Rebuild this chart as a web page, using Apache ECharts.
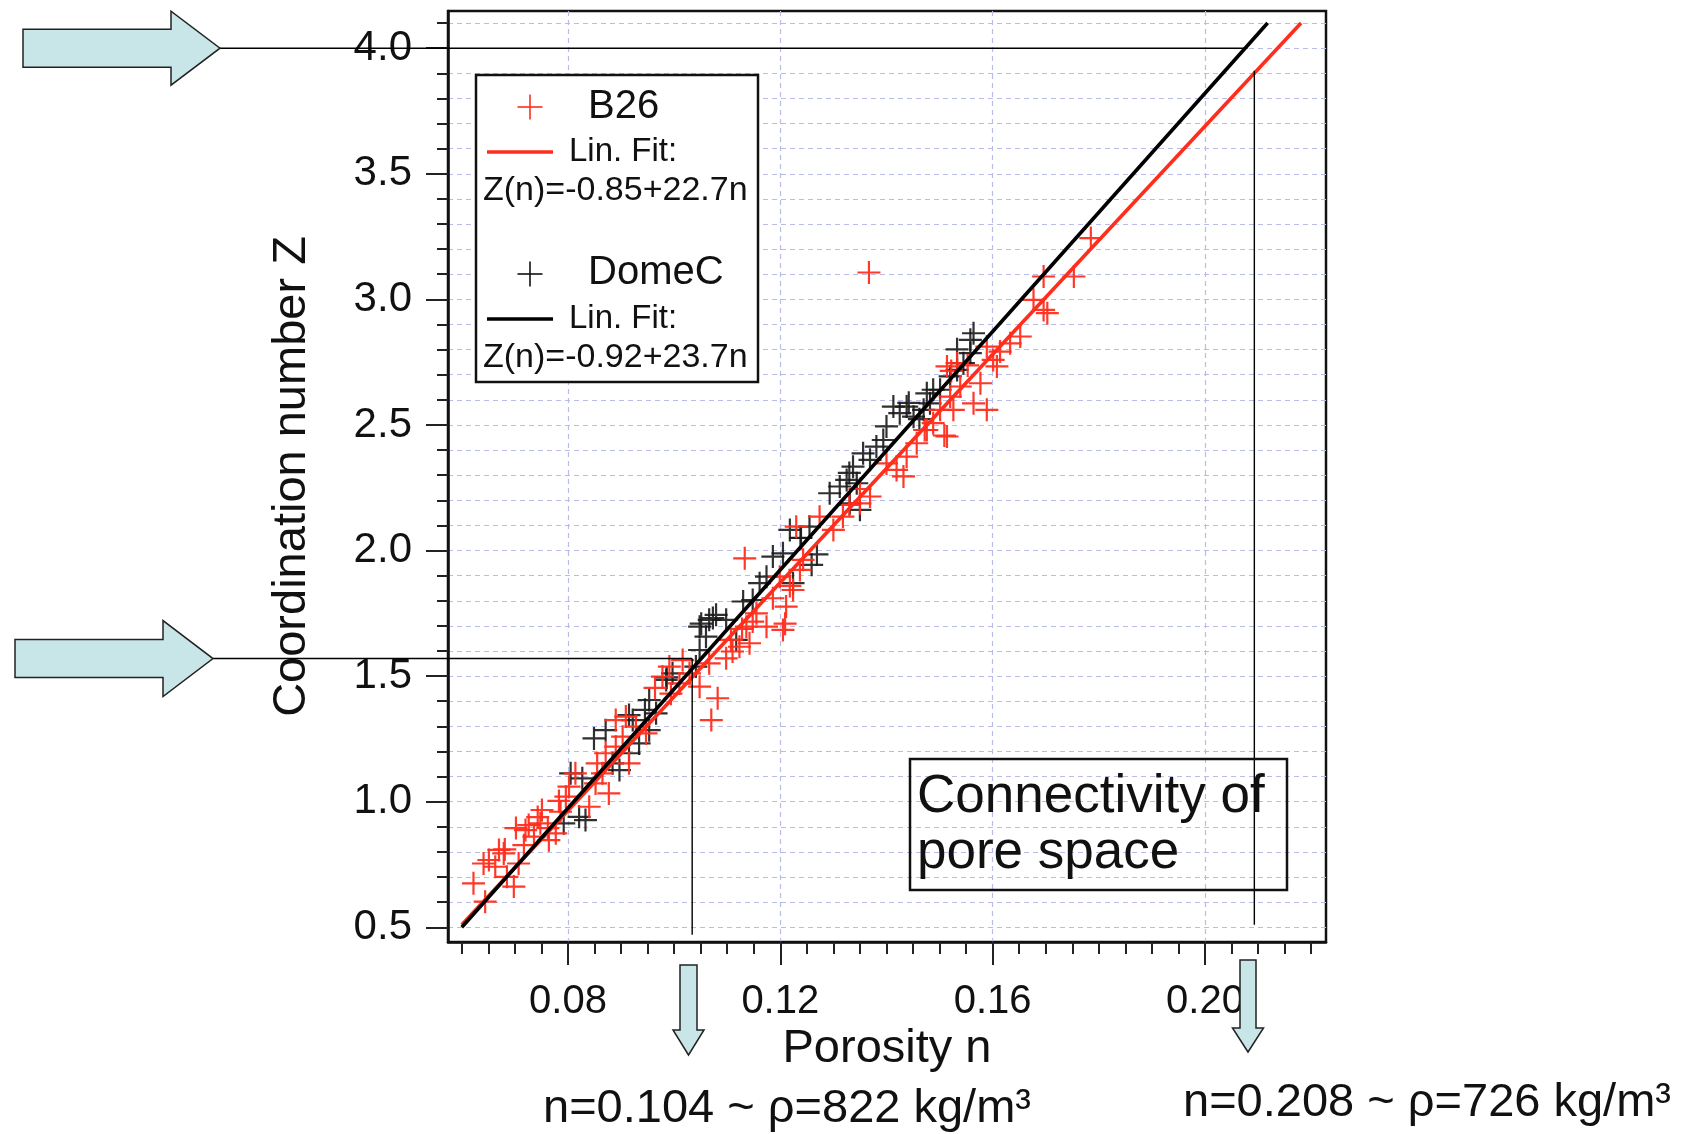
<!DOCTYPE html>
<html><head><meta charset="utf-8">
<script src="https://cdn.jsdelivr.net/npm/echarts@6/dist/echarts.min.js"></script>
<style>html,body{margin:0;padding:0;background:#fff}#c{width:1686px;height:1134px}</style>
</head><body><div id="c"></div>
<script>
// ---------- data ----------
const seriesNames = ['B26', 'DomeC'];
const fitLabel = 'Lin. Fit:';
const fitEquations = ['Z(n)=-0.85+22.7n', 'Z(n)=-0.92+23.7n'];
const xTitle = 'Porosity n';
const yTitle = 'Coordination number Z';
const noteTexts = ['n=0.104 ~ \u03c1=822 kg/m\u00b3', 'n=0.208 ~ \u03c1=726 kg/m\u00b3'];

const xMajorTicks = [0.08, 0.12, 0.16, 0.20];
const xMinorTicks = [0.06,0.065,0.07,0.075,0.08,0.085,0.09,0.095,0.10,0.105,0.11,0.115,0.12,0.125,0.13,0.135,0.14,0.145,0.15,0.155,0.16,0.165,0.17,0.175,0.18,0.185,0.19,0.195,0.20,0.205,0.21,0.215,0.22];
const yMajorTicks = [0.5, 1.0, 1.5, 2.0, 2.5, 3.0, 3.5, 4.0];
const yMinorTicks = [0.5,0.6,0.7,0.8,0.9,1.0,1.1,1.2,1.3,1.4,1.5,1.6,1.7,1.8,1.9,2.0,2.1,2.2,2.3,2.4,2.5,2.6,2.7,2.8,2.9,3.0,3.1,3.2,3.3,3.4,3.5,3.6,3.7,3.8,3.9,4.0,4.1];
const xRange = [0.0574, 0.2228];
const yRange = [0.4415, 4.148];

// B26 (red crosses) [porosity n, coordination Z]
const b26Points = [
 [0.0622,0.675],[0.0644,0.602],[0.0641,0.754],[0.0663,0.741],[0.0679,0.794],[0.0685,0.701],[0.0698,0.662],
 [0.0707,0.754],[0.0717,0.827],[0.0726,0.907],[0.0736,0.861],[0.0748,0.914],[0.0764,0.847],[0.0777,0.874],
 [0.0786,0.960],[0.0796,1.020],[0.0802,1.060],[0.0814,1.113],[0.0840,0.980],[0.0852,1.073],[0.0855,1.153],
 [0.0865,1.113],[0.0877,1.033],[0.0871,1.193],[0.0890,1.219],[0.0903,1.259],[0.0915,1.153],[0.0928,1.299],
 [0.0947,1.272],[0.0751,0.967],[0.0720,0.887],[0.0670,0.808],
 [0.0651,0.768],[0.0681,0.810],[0.0702,0.895],[0.0743,0.939],[0.0762,0.895],[0.0783,1.003],
 [0.1133,1.969],[0.0890,1.325],[0.0909,1.339],[0.0978,1.498],[0.0991,1.538],[0.1010,1.471],[0.1016,1.564],
 [0.1029,1.511],[0.1048,1.458],[0.1066,1.551],[0.1082,1.412],[0.1070,1.325],[0.1098,1.571],[0.1110,1.598],
 [0.1123,1.617],[0.1142,1.631],[0.1136,1.697],[0.1174,1.697],[0.1205,1.684],[0.1186,1.810],[0.1211,1.777],
 [0.1224,1.843],[0.1237,1.923],[0.1243,1.963],[0.1199,1.896],[0.1155,1.750],[0.1148,1.717],
 [0.0964,1.453],[0.0994,1.430],[0.1107,1.644],[0.1128,1.688],[0.1218,1.859],[0.1209,1.709],
 [0.1230,2.095],[0.1274,2.135],[0.1300,2.082],[0.1318,2.135],[0.1350,2.188],[0.1369,2.215],[0.1400,2.347],
 [0.1419,2.321],[0.1432,2.295],[0.1438,2.374],[0.1457,2.427],[0.1476,2.480],[0.1488,2.507],[0.1514,2.454],
 [0.1501,2.560],[0.1520,2.613],[0.1514,2.733],[0.1533,2.746],[0.1539,2.653],[0.1526,2.560],
 [0.1350,2.245],[0.1330,2.182],[0.1472,2.480],[0.1509,2.458],[0.1553,2.737],[0.1522,2.715],
 [0.1785,3.244],[0.1753,3.091],[0.1696,3.091],[0.1677,2.998],[0.1696,2.958],[0.1703,2.945],[0.1652,2.852],
 [0.1633,2.825],[0.1614,2.792],[0.1601,2.759],[0.1608,2.733],[0.1577,2.666],[0.1564,2.586],[0.1589,2.560],
 [0.1589,2.812],[0.1367,3.107]
];
// DomeC (black crosses)
const domeCPoints = [
 [0.0849,1.252],[0.0871,1.285],[0.0805,1.113],[0.0827,1.093],[0.0792,0.914],[0.0821,0.940],[0.0833,0.927],
 [0.0884,1.153],[0.0897,1.126],[0.0915,1.193],[0.0934,1.232],[0.0953,1.285],
 [0.0945,1.366],[0.0915,1.345],[0.0986,1.495],[0.1051,1.709],[0.1073,1.731],
 [0.1048,1.697],[0.1066,1.724],[0.1079,1.744],[0.1098,1.724],[0.1048,1.604],[0.1060,1.657],[0.1117,1.644],
 [0.1130,1.797],[0.1148,1.803],[0.1161,1.870],[0.1174,1.896],[0.1186,1.976],[0.1205,1.989],[0.1218,2.082],
 [0.0985,1.485],[0.0997,1.511],[0.0953,1.405],[0.0966,1.352],[0.0922,1.325],[0.1224,1.870],[0.1041,1.538],
 [0.1238,2.050],[0.1259,1.943],[0.1269,1.985],[0.1239,2.051],
 [0.1255,2.095],[0.1293,2.228],[0.1312,2.255],[0.1325,2.281],[0.1344,2.268],[0.1337,2.334],[0.1356,2.387],
 [0.1369,2.361],[0.1381,2.414],[0.1394,2.440],[0.1400,2.494],[0.1413,2.573],[0.1425,2.547],[0.1438,2.573],
 [0.1451,2.533],[0.1476,2.626],[0.1488,2.640],[0.1350,2.162],[0.1331,2.188],
 [0.1330,2.309],[0.1442,2.588],[0.1462,2.523],[0.1533,2.801],
 [0.1558,2.839],[0.1564,2.865],[0.1558,2.786],[0.1545,2.746],[0.1533,2.719],[0.1520,2.693],[0.1501,2.640],
 [0.1482,2.586],[0.1470,2.560]
];
// linear fit lines (end points)
const fitB26 = [[0.060, 0.51], [0.2181, 4.10]];
const fitDomeC = [[0.060, 0.50], [0.2118, 4.10]];
// reference guide lines
const guideLow = [[0.1034, 1.57], [0.1034, 0.47]];
const guideHigh = [[0.2093, 3.91], [0.2093, 0.51]];
const guideLowH = [0.1034, 1.57];   // horizontal guide end (n, Z)
const guideHighH = [0.2080, 4.00];

// ---------- styles ----------
const FONT = "'Liberation Sans', Arial, Helvetica, sans-serif";
const RED = '#ff2d1c';
const BLK = '#111111';
const GRIDC = '#b8bce8';
const ARROW_FILL = '#c8e5e8';
const CROSS = 'path://M9.05,0H10.95V9.05H20V10.95H10.95V20H9.05V10.95H0V9.05H9.05Z';

const chart = echarts.init(document.getElementById('c'), null, {renderer: 'canvas'});

const grid = {left: 448, top: 11, width: 878, height: 931, show: true, borderColor: BLK, borderWidth: 2.5, backgroundColor: 'transparent'};

const option = {
  animation: false,
  backgroundColor: '#ffffff',
  grid: grid,
  xAxis: [
    {type: 'value', min: xRange[0], max: xRange[1], position: 'bottom',
     axisLine: {show: true, onZero: false, lineStyle: {color: BLK, width: 2.5}},
     axisTick: {show: true, customValues: xMinorTicks, length: 12, lineStyle: {color: '#222', width: 2}},
     axisLabel: {show: false}, splitLine: {show: false},
     name: xTitle, nameLocation: 'middle', nameGap: 84,
     nameTextStyle: {fontFamily: FONT, fontSize: 47, color: '#111'}},
    {type: 'value', min: xRange[0], max: xRange[1], position: 'bottom',
     axisLine: {show: false},
     axisTick: {show: true, customValues: xMajorTicks, length: 23, lineStyle: {color: '#222', width: 2}},
     axisLabel: {show: true, customValues: xMajorTicks, margin: 40, fontFamily: FONT, fontSize: 40, color: '#111',
       formatter: v => v.toFixed(2)},
     splitLine: {show: true, lineStyle: {color: GRIDC, width: 1.2, type: [5, 4]}}}
  ],
  yAxis: [
    {type: 'value', min: yRange[0], max: yRange[1], position: 'left',
     axisLine: {show: true, onZero: false, lineStyle: {color: BLK, width: 2.5}},
     axisTick: {show: true, customValues: yMinorTicks, length: 11, lineStyle: {color: '#222', width: 2}},
     axisLabel: {show: false},
     splitLine: {show: true, lineStyle: {color: GRIDC, width: 1.2, type: [5, 4]}},
     name: yTitle, nameLocation: 'middle', nameGap: 132,
     nameTextStyle: {fontFamily: FONT, fontSize: 47, color: '#111'}},
    {type: 'value', min: yRange[0], max: yRange[1], position: 'left',
     axisLine: {show: false},
     axisTick: {show: true, customValues: yMajorTicks, length: 22, lineStyle: {color: '#222', width: 2}},
     axisLabel: {show: true, customValues: yMajorTicks, margin: 36, fontFamily: FONT, fontSize: 42, color: '#111',
       formatter: v => v.toFixed(1)},
     splitLine: {show: false}}
  ],
  series: [
    {name: seriesNames[1], type: 'scatter', data: domeCPoints, symbol: CROSS, symbolSize: 23,
     itemStyle: {color: '#1a1a1a', opacity: 0.9}, z: 2},
    {name: seriesNames[0], type: 'scatter', data: b26Points, symbol: CROSS, symbolSize: 23,
     itemStyle: {color: RED, opacity: 0.95}, z: 3},
    {name: 'fit ' + seriesNames[0], type: 'line', data: fitB26, showSymbol: false, symbol: 'none',
     lineStyle: {color: RED, width: 3.6}, z: 4},
    {name: 'fit ' + seriesNames[1], type: 'line', data: fitDomeC, showSymbol: false, symbol: 'none',
     lineStyle: {color: '#000', width: 3.6}, z: 5},
    {name: 'guide low', type: 'line', data: guideLow, symbol: 'none', lineStyle: {color: '#000', width: 1.4}, z: 6},
    {name: 'guide high', type: 'line', data: guideHigh, symbol: 'none', lineStyle: {color: '#000', width: 1.4}, z: 6}
  ]
};
chart.setOption(option);

// ---------- annotations ----------
const pLow = chart.convertToPixel({gridIndex: 0}, guideLowH);
const pHigh = chart.convertToPixel({gridIndex: 0}, guideHighH);

function arrowRight(x0, x1, x2, yMid, bodyHalf, headHalf) {
  return [[x0, yMid - bodyHalf], [x1, yMid - bodyHalf], [x1, yMid - headHalf], [x2, yMid],
          [x1, yMid + headHalf], [x1, yMid + bodyHalf], [x0, yMid + bodyHalf]];
}
function arrowDown(xMid, y0, y1, y2, bodyHalf, headHalf) {
  return [[xMid - bodyHalf, y0], [xMid + bodyHalf, y0], [xMid + bodyHalf, y1], [xMid + headHalf, y1],
          [xMid, y2], [xMid - headHalf, y1], [xMid - bodyHalf, y1]];
}
const txt = (text, x, y, size, align, extra) => Object.assign({
  type: 'text', z: 120,
  style: {text: text, x: x, y: y, font: size + 'px ' + FONT, fill: '#111',
          align: align || 'left', verticalAlign: 'middle', textAlign: align || 'left', textVerticalAlign: 'middle'}
}, extra || {});
const ln = (x1, y1, x2, y2, color, w, z) => ({type: 'line', z: z || 110,
  shape: {x1: x1, y1: y1, x2: x2, y2: y2}, style: {stroke: color, lineWidth: w}});
const cross = (cx, cy, s, color) => [ln(cx - s / 2, cy, cx + s / 2, cy, color, 1.6, 121), ln(cx, cy - s / 2, cx, cy + s / 2, color, 1.6, 121)];

const arrowStyle = {fill: ARROW_FILL, stroke: '#222', lineWidth: 1.5};
const graphics = [
  // horizontal guides from arrows
  ln(220, pHigh[1], pHigh[0], pHigh[1], '#000', 1.5, 100),
  ln(213, pLow[1], pLow[0], pLow[1], '#000', 1.5, 100),
  // arrows
  {type: 'polygon', z: 101, shape: {points: arrowRight(23, 171, 220, pHigh[1], 19, 37)}, style: arrowStyle},
  {type: 'polygon', z: 101, shape: {points: arrowRight(15, 163, 213, pLow[1], 19, 38)}, style: arrowStyle},
  {type: 'polygon', z: 101, shape: {points: arrowDown(688.5, 965, 1030, 1055, 8.5, 15.5)}, style: arrowStyle},
  {type: 'polygon', z: 101, shape: {points: arrowDown(1248, 960, 1028, 1052, 8, 15.5)}, style: arrowStyle},
  // notes
  txt(noteTexts[0], 787, 1109, 47, 'center'),
  txt(noteTexts[1], 1427, 1103, 47, 'center'),
  // legend box
  {type: 'rect', z: 115, shape: {x: 476, y: 75, width: 282, height: 307}, style: {fill: '#fff', stroke: BLK, lineWidth: 2.5}},
  ...cross(530, 107, 25, RED),
  txt(seriesNames[0], 588, 107, 40),
  ln(487, 152, 553, 152, RED, 3.3, 121),
  txt(fitLabel, 569, 152, 33),
  txt(fitEquations[0], 483, 191, 34),
  ...cross(530, 274, 25, BLK),
  txt(seriesNames[1], 588, 273, 40),
  ln(487, 319, 553, 319, '#000', 3.3, 121),
  txt(fitLabel, 569, 319, 33),
  txt(fitEquations[1], 483, 358, 34),
  // connectivity box
  {type: 'rect', z: 115, shape: {x: 910, y: 759, width: 377, height: 131}, style: {fill: 'transparent', stroke: BLK, lineWidth: 2.5}},
  txt('Connectivity of', 917, 797, 53),
  txt('pore space', 917, 853, 53)
];
chart.setOption({graphic: graphics});
</script></body></html>
